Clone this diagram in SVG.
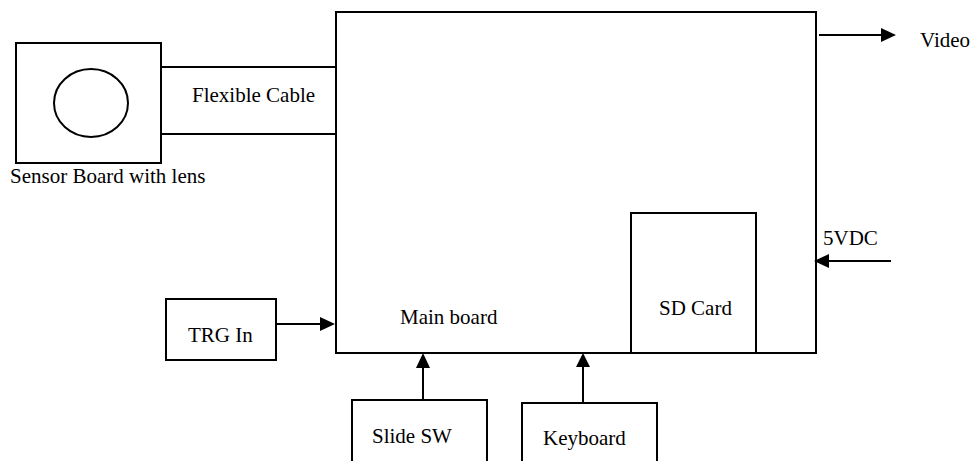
<svg xmlns="http://www.w3.org/2000/svg" width="970" height="461" viewBox="0 0 970 461">
<style>
.box{fill:#fff;stroke:#000;stroke-width:2}
.ln{stroke:#000;stroke-width:2;fill:none}
.ah{fill:#000}
</style>
<rect width="970" height="461" fill="#fff"/>
<g font-family="Liberation Serif, Times New Roman, serif" font-size="21" fill="#000">
<g id="main-board">
<rect class="box" x="336" y="12" width="480" height="341"/>
<text x="400" y="324">Main board</text>
</g>
<g id="sensor-board">
<rect class="box" x="16" y="43" width="145" height="120"/>
<ellipse class="ln" cx="91" cy="103" rx="37" ry="34"/>
<text x="10" y="183">Sensor Board with lens</text>
</g>
<g id="flexible-cable">
<rect class="box" x="161" y="67" width="175" height="67"/>
<text x="192" y="102">Flexible Cable</text>
</g>
<g id="sd-card">
<rect class="box" x="631" y="213" width="125" height="140"/>
<text x="659" y="315">SD Card</text>
</g>
<g id="trg-in">
<rect class="box" x="166" y="299" width="110" height="61"/>
<text x="188" y="342">TRG In</text>
</g>
<g id="slide-sw">
<rect class="box" x="352" y="400" width="135" height="70"/>
<text x="372" y="443">Slide SW</text>
</g>
<g id="keyboard">
<rect class="box" x="522" y="403" width="135" height="70"/>
<text x="543" y="445">Keyboard</text>
</g>
<g id="video">
<text x="920" y="47">Video</text>
</g>
<g id="vdc">
<text x="823" y="245">5VDC</text>
</g>
</g>
<g id="connectors">
<line class="ln" x1="819" y1="35" x2="882" y2="35"/>
<polygon class="ah" points="881,28 896,35 881,42"/>
<line class="ln" x1="891" y1="261" x2="827" y2="261"/>
<polygon class="ah" points="829,254 814,261 829,268"/>
<line class="ln" x1="276" y1="324" x2="321" y2="324"/>
<polygon class="ah" points="320,317 335,324 320,331"/>
<line class="ln" x1="423" y1="400" x2="423" y2="366"/>
<polygon class="ah" points="416,368 423,353 430,368"/>
<line class="ln" x1="583" y1="403" x2="583" y2="366"/>
<polygon class="ah" points="576,367 583,353 590,367"/>
</g>
</svg>
